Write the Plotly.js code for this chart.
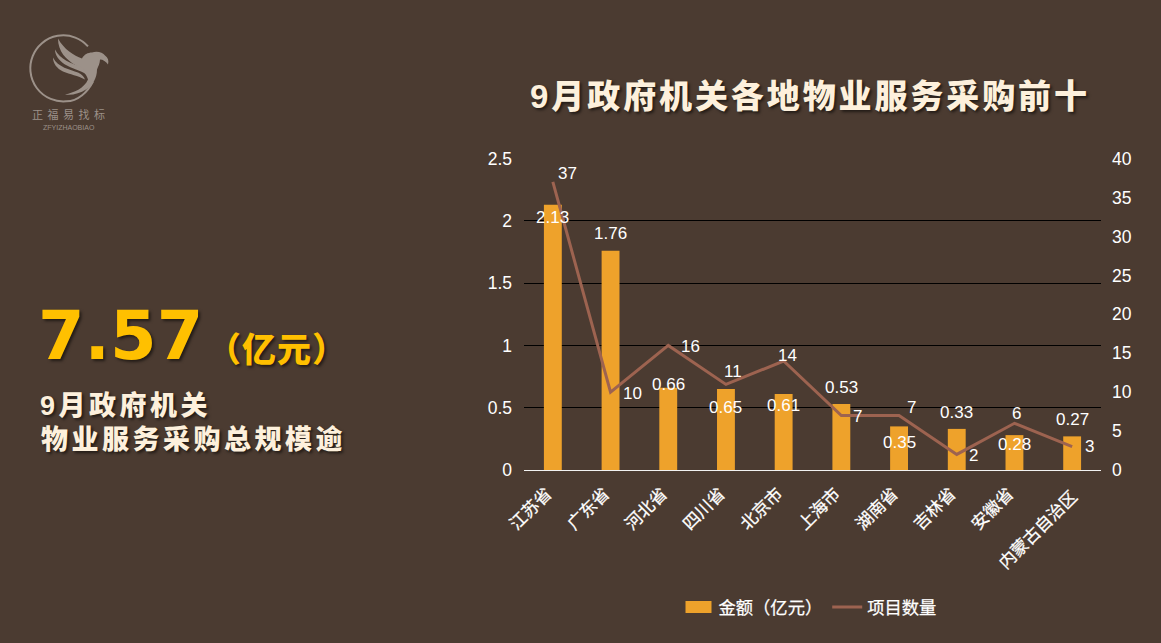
<!DOCTYPE html>
<html><head><meta charset="utf-8">
<script src="https://cdn.plot.ly/plotly-3.0.1.min.js"></script>
<style>html,body{margin:0;padding:0;background:#4b3b31}#c{width:1161px;height:643px}
.gtitle{letter-spacing:2.9px}
.xtick text,.legendtext{stroke:#ffffff;stroke-width:.25px}
</style>
</head><body><div id="c"></div>
<script>
const categories = ['江苏省','广东省','河北省','四川省','北京市','上海市','湖南省','吉林省','安徽省','内蒙古自治区'];
const amounts = [2.13,1.76,0.66,0.65,0.61,0.53,0.35,0.33,0.28,0.27];
const projectCounts = [37,10,16,11,14,7,7,2,6,3];
const leftTicks = [0,0.5,1,1.5,2,2.5];
const rightTicks = [0,5,10,15,20,25,30,35,40];

const barLabelShift = [-13,17,3,-18,-11,16,-16,16,-9,17];
const lineLabelShift = [8,-1,-1,13,6,-1,8,-1,10,0];
const lineLabelX = [15,22,22,7,4,16,12,17,2,17];

const W = 1161, H = 643;
const PL = 524, PR = 1101, PT = 158.4, PB = 470;
const CJK = '"Liberation Sans","Noto Sans CJK SC",sans-serif';
const BG = '#4b3b31', CREAM = '#fdf0dc', GOLD = '#ffc000', LOGO = '#9c9189';
const px = v => (v - PL) / (PR - PL), py = v => (PB - v) / (PB - PT);
const shadow = '2px 2px 3px rgba(0,0,0,0.55)';

function free(x, y, text, size, color, family, opts) {
  return Object.assign({xref:'paper',yref:'paper',x:px(x),y:py(y),text,showarrow:false,
    xanchor:'left',yanchor:'middle',align:'left',font:{family:family||CJK,size,color,shadow,weight:900}}, opts||{});
}
const ann = [];
categories.forEach((c,i)=>{
  ann.push({x:c,y:amounts[i],xref:'x',yref:'y',text:String(amounts[i]),showarrow:false,
    yshift:barLabelShift[i],font:{family:CJK,size:17,color:'#ffffff'}});
  ann.push({x:c,y:projectCounts[i],xref:'x',yref:'y2',text:String(projectCounts[i]),showarrow:false,
    yshift:lineLabelShift[i],xshift:lineLabelX[i],font:{family:CJK,size:17,color:'#ffffff'}});
});
ann.push(free(36,336,'7.57',67,GOLD,'"DejaVu Sans",sans-serif'));
ann.push(free(205,350,'（亿元）',34,GOLD));
ann.push(free(38,406,'9月政府机关',27,CREAM));
ann.push(free(39,440,'物业服务采购总规模逾',27,CREAM));
ann.push(free(59,114.5,'正福易找标',11,LOGO,'"Noto Sans CJK SC",serif',{xanchor:'center',font:{family:'"Noto Sans CJK SC",serif',size:11,color:LOGO}}));
ann.push(free(69,128,'ZFYIZHAOBIAO',7,LOGO,null,{xanchor:'center',font:{family:'"Liberation Sans",sans-serif',size:7,color:LOGO}}));

const logoSvg = `<svg xmlns="http://www.w3.org/2000/svg" width="130" height="120" viewBox="0 20 130 120">
<path d="M88 47 A33 33 0 1 0 66 101.8 C78 102 88 92 93 82" fill="none" stroke="${LOGO}" stroke-width="2"/>
<path d="M58 39 C64 50 74 56 82 59 C84 55 88 53 92 53 C97 51 103 53 105 56 C108 58 109 61 108 65 C106 62 103 60 100 60 C100 64 98 67 97 70 C97 78 93 86 86 90 C80 94 72 96 65 95 C74 93 84 89 88 80 C86 74 82 70 76 66 C66 60 58 52 58 39Z" fill="${LOGO}"/>
<path d="M55 50 C60 60 72 64 80 67 C84 69 86 72 87 75 C80 71 72 69 65 65 C59 61 55 56 55 50Z" fill="${LOGO}"/>
<path d="M53 58 C58 68 70 70 78 73 C82 75 84 77 85 80 C78 76 70 75 63 72 C57 69 53 64 53 58Z" fill="${LOGO}"/>
</svg>`;

const traces = [
  {type:'bar',name:'金额（亿元）',x:categories,y:amounts,marker:{color:'#eea22b'},width:0.31,yaxis:'y'},
  {type:'scatter',mode:'lines',name:'项目数量',x:categories,y:projectCounts,yaxis:'y2',
   line:{color:'#9d6350',width:3,shape:'linear'}}
];
const topFrac = (PB - 159) / (PB - PT);
const layout = {
  width:W,height:H,paper_bgcolor:BG,plot_bgcolor:BG,showlegend:true,
  margin:{l:PL,r:W-PR,t:PT,b:H-PB,pad:0},
  font:{family:CJK,color:'#ffffff',size:16.5},
  title:{text:'9月政府机关各地物业服务采购前十',x:810/W,xanchor:'center',y:1-96/H,yanchor:'middle',
    font:{family:CJK,size:33,color:CREAM,shadow,weight:900}},
  xaxis:{type:'category',tickangle:-45,tickfont:{size:17,color:'#ffffff',family:CJK},showgrid:false,
    showline:true,linecolor:'#f2f2f2',linewidth:1,ticks:'',categoryorder:'array',categoryarray:categories,
    ticklabelshift:-6,ticklabelstandoff:6},
  yaxis:{range:[0,2.5/topFrac],tickvals:leftTicks,ticktext:leftTicks.map(String),gridcolor:'#000000',gridwidth:1,
    zeroline:false,showline:false,ticks:'',tickfont:{size:17.5,color:'#ffffff',family:CJK},ticklabelstandoff:11},
  yaxis2:{range:[0,40/topFrac],tickvals:rightTicks,overlaying:'y',side:'right',showgrid:false,zeroline:false,
    showline:false,ticks:'',tickfont:{size:17.5,color:'#ffffff',family:CJK},ticklabelstandoff:10},
  legend:{orientation:'h',x:px(810),xanchor:'center',y:py(607),yanchor:'middle',itemwidth:30,
    font:{family:CJK,size:17.3,color:'#ffffff'},bgcolor:'rgba(0,0,0,0)'},
  annotations:ann,
  images:[{source:'data:image/svg+xml;utf8,'+encodeURIComponent(logoSvg),xref:'paper',yref:'paper',
    x:px(0),y:py(20),sizex:130/(PR-PL),sizey:120/(PB-PT),xanchor:'left',yanchor:'top',sizing:'stretch',layer:'above'}]
};
const spacing = {'9月政府机关':3.5,'物业服务采购总规模逾':3.5,'（亿元）':1,'正福易找标':4.5};
Plotly.newPlot('c',traces,layout,{displayModeBar:false,staticPlot:true}).then(()=>{
  document.querySelectorAll('.legendbar path, .legendpoints path').forEach(p=>{
    if(p.closest('.legendbar')||p.classList.contains('legendundefined')) p.setAttribute('d','M13,6H-13V-6H13Z');
  });
  document.querySelectorAll('.annotation-text').forEach(t=>{
    const s = spacing[t.textContent];
    if(s) t.style.letterSpacing = s+'px';
  });
  const ticks = document.querySelectorAll('.xtick text');
  const last = ticks[ticks.length-1];
  if(last){ last.setAttribute('transform','translate(6,3) '+(last.getAttribute('transform')||'')); }
});
</script></body></html>
